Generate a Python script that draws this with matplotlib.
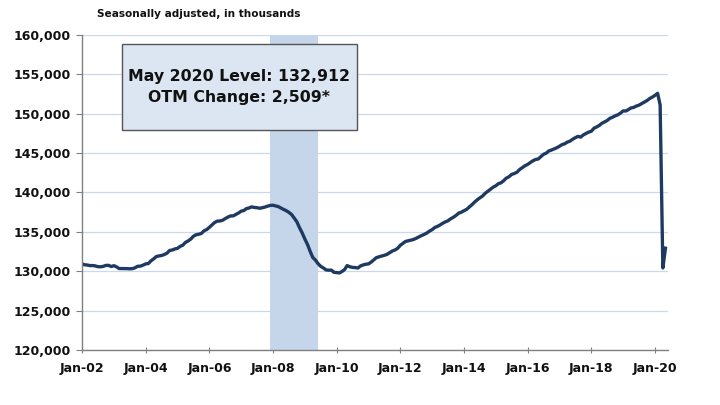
import matplotlib
matplotlib.use("Agg")
import matplotlib.pyplot as plt
import matplotlib.dates as mdates
import matplotlib.ticker as mticker
import matplotlib.patches as patches
import pandas as pd
from datetime import datetime

# total nonfarm payrolls, seasonally adjusted, thousands (Jan 2002 - May 2020)
emp_2002 = [130933, 130799, 130780, 130704, 130712, 130667, 130568, 130553, 130609, 130731, 130739, 130586]
emp_2003 = [130693, 130543, 130332, 130328, 130318, 130319, 130298, 130318, 130427, 130620, 130632, 130761]
emp_2004 = [130917, 130966, 131303, 131553, 131851, 131929, 131986, 132111, 132278, 132620, 132688, 132816]
emp_2005 = [132904, 133156, 133287, 133647, 133825, 134071, 134421, 134617, 134690, 134786, 135122, 135278]
emp_2006 = [135563, 135879, 136164, 136348, 136370, 136456, 136669, 136858, 137011, 137016, 137205, 137376]
emp_2007 = [137614, 137698, 137933, 138018, 138159, 138087, 138058, 137982, 138052, 138136, 138252, 138347]
emp_2008 = [138365, 138279, 138199, 138014, 137839, 137677, 137465, 137194, 136735, 136262, 135502, 134852]
emp_2009 = [134067, 133364, 132551, 131745, 131417, 130950, 130614, 130408, 130159, 130119, 130131, 129846]
emp_2010 = [129823, 129770, 129945, 130194, 130706, 130554, 130477, 130457, 130396, 130660, 130793, 130878]
emp_2011 = [130923, 131150, 131410, 131714, 131818, 131920, 132007, 132125, 132350, 132553, 132687, 132894]
emp_2012 = [133281, 133541, 133771, 133854, 133941, 134020, 134171, 134343, 134519, 134664, 134840, 135084]
emp_2013 = [135273, 135552, 135676, 135856, 136079, 136254, 136394, 136644, 136838, 137071, 137367, 137481]
emp_2014 = [137665, 137853, 138118, 138424, 138746, 139052, 139296, 139528, 139883, 140132, 140396, 140657]
emp_2015 = [140842, 141115, 141205, 141486, 141807, 141984, 142271, 142396, 142561, 142898, 143133, 143373]
emp_2016 = [143548, 143786, 144003, 144177, 144231, 144530, 144829, 144979, 145262, 145373, 145523, 145664]
emp_2017 = [145860, 146074, 146163, 146381, 146504, 146747, 146937, 147109, 147017, 147291, 147474, 147651]
emp_2018 = [147760, 148145, 148292, 148488, 148761, 148942, 149113, 149396, 149534, 149711, 149844, 150053]
emp_2019 = [150341, 150330, 150502, 150718, 150780, 150958, 151067, 151261, 151460, 151645, 151906, 152090]
emp_2020 = [152304, 152577, 151090, 130403, 132912]

employment = (emp_2002 + emp_2003 + emp_2004 + emp_2005 + emp_2006 + emp_2007 + emp_2008 +
              emp_2009 + emp_2010 + emp_2011 + emp_2012 + emp_2013 + emp_2014 + emp_2015 +
              emp_2016 + emp_2017 + emp_2018 + emp_2019 + emp_2020)
months = pd.date_range("2002-01-01", periods=len(employment), freq="MS")

recession_start = datetime(2007, 12, 1)
recession_end = datetime(2009, 6, 1)

subtitle = "Seasonally adjusted, in thousands"
box_lines = ["May 2020 Level: 132,912", "OTM Change: 2,509*"]

navy = "#1f3a60"
grid_blue = "#c9d8ec"
shade_blue = "#c5d5ea"

fig = plt.figure(figsize=(7.2, 4.05), dpi=100, facecolor="white")
ax = fig.add_axes([0.114, 0.136, 0.814, 0.778])

ax.axvspan(recession_start, recession_end, color=shade_blue, lw=0, zorder=1)
ax.plot(months, employment, color=navy, lw=2.4, zorder=3, solid_joinstyle="round")

ax.set_ylim(120000, 160000)
ax.set_xlim(datetime(2002, 1, 1), datetime(2020, 6, 1))
ax.yaxis.set_major_locator(mticker.MultipleLocator(5000))
ax.yaxis.set_major_formatter(mticker.FuncFormatter(lambda v, p: f"{int(v):,}"))
ax.xaxis.set_major_locator(mdates.YearLocator(2))
ax.xaxis.set_major_formatter(mdates.DateFormatter("Jan-%y"))

ax.grid(axis="y", color=grid_blue, lw=0.9, zorder=0)
ax.set_axisbelow(True)
for s in ["top", "right"]:
    ax.spines[s].set_visible(False)
for s in ["left", "bottom"]:
    ax.spines[s].set_color("#808080")
    ax.spines[s].set_linewidth(1.0)
    ax.spines[s].set_zorder(4)

ax.tick_params(axis="y", direction="out", length=4, color="#808080", labelsize=9, pad=4)
ax.tick_params(axis="x", direction="inout", length=5, color="#808080", labelsize=9, pad=6)
for lbl in ax.get_xticklabels() + ax.get_yticklabels():
    lbl.set_fontweight("bold")
    lbl.set_color("#111111")

# annotation box
box = patches.Rectangle((0.068, 0.698), 0.401, 0.273, transform=ax.transAxes,
                        facecolor="#dce6f2", edgecolor="#555555", lw=1.0, zorder=5)
ax.add_patch(box)
ax.text(0.2685, 0.868, box_lines[0], transform=ax.transAxes, ha="center", va="center",
        fontsize=11.3, fontweight="bold", color="#111111", zorder=6)
ax.text(0.2685, 0.800, box_lines[1], transform=ax.transAxes, ha="center", va="center",
        fontsize=11.3, fontweight="bold", color="#111111", zorder=6)

fig.text(0.135, 0.965, subtitle, fontsize=7.6, fontweight="bold", color="#111111",
         ha="left", va="center")

fig.savefig("out.png", dpi=100)
